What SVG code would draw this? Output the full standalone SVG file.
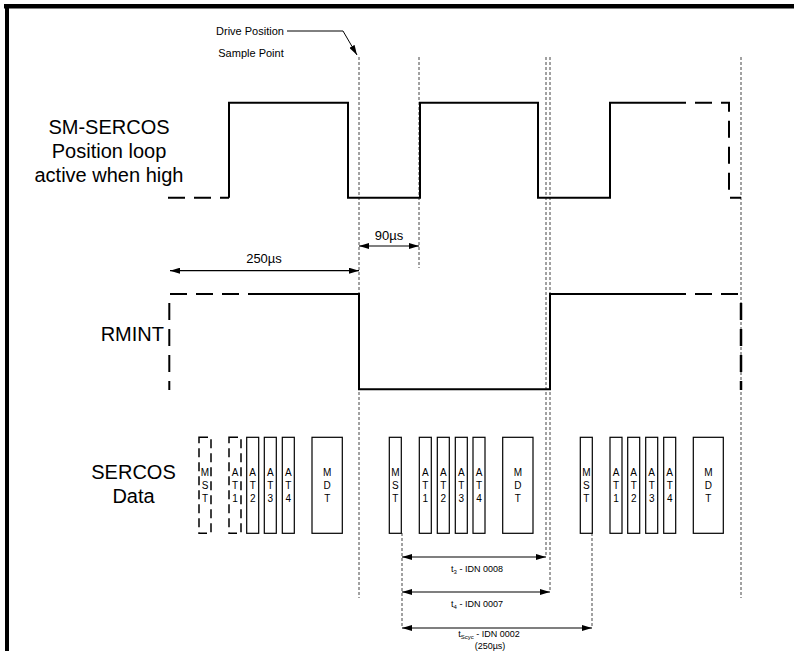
<svg xmlns="http://www.w3.org/2000/svg" width="794" height="651" viewBox="0 0 794 651">
<defs>
<marker id="ah" viewBox="0 0 10 6" refX="10" refY="3" markerWidth="10" markerHeight="6" markerUnits="userSpaceOnUse" orient="auto-start-reverse">
<path d="M0,0 L10,3 L0,6 Z" fill="#000"/>
</marker>
</defs>
<style>
text{font-family:"Liberation Sans",Arial,sans-serif;fill:#000}
.lbl{font-size:20px;text-anchor:middle}
.sm{font-size:11px;text-anchor:middle}
.tiny{font-size:9px;text-anchor:middle}
.box text,.boxd text{font-size:10px;text-anchor:middle}
.wave{stroke:#000;stroke-width:2;fill:none}
.wdash{stroke:#000;stroke-width:2;fill:none;stroke-dasharray:17 9}
.guide{stroke:#444;stroke-width:1;fill:none;stroke-dasharray:3 2}
.dim{stroke:#000;stroke-width:1.2;fill:none;marker-start:url(#ah);marker-end:url(#ah)}
.box rect{fill:#fff;stroke:#000;stroke-width:1.2}
.boxd rect{fill:#fff;stroke:#000;stroke-width:1.5;stroke-dasharray:9 5}
</style>
<rect width="794" height="651" fill="#fff"/>
<!-- frame -->
<line x1="4" y1="6.3" x2="794" y2="6.3" stroke="#000" stroke-width="4.5"/>
<line x1="7" y1="4" x2="7" y2="651" stroke="#000" stroke-width="4"/>

<g id="connectors">
<line class="guide" x1="359" y1="57" x2="359" y2="598"/>
<line class="guide" x1="419" y1="57" x2="419" y2="268"/>
<line class="guide" x1="546" y1="57" x2="546" y2="557"/>
<line class="guide" x1="550" y1="57" x2="550" y2="592"/>
<line class="guide" x1="741" y1="57" x2="741" y2="598"/>
<line class="guide" x1="402" y1="533" x2="402" y2="628"/>
<line class="guide" x1="592" y1="533" x2="592" y2="628"/>
<path d="M287,31 H343 L357,55" stroke="#000" stroke-width="1" fill="none" marker-end="url(#ah)"/>
<line class="dim" x1="170" y1="270.7" x2="359" y2="270.7"/>
<line class="dim" x1="359" y1="246" x2="419" y2="246"/>
<line class="dim" x1="402" y1="557" x2="546" y2="557"/>
<line class="dim" x1="402" y1="592" x2="550" y2="592"/>
<line class="dim" x1="402" y1="628" x2="592" y2="628"/>
</g>

<g id="sm-sercos-wave">
<path class="wdash" d="M168,197.7 H229"/>
<path class="wave" d="M229,197.7 V102.7 H348 V197.7 H420 V102.7 H538 V197.7 H610 V102.7 H669"/>
<path class="wdash" d="M669,102.7 H729 V197.7 H741"/>
</g>

<g id="rmint-wave">
<path class="wdash" d="M170,294 H265"/>
<path class="wdash" d="M169.3,303 V390"/>
<path class="wave" d="M265,294 H359 V389.3 H550 V294 H669"/>
<path class="wdash" d="M669,294 H739"/>
<path class="wdash" d="M741,303 V390" style="stroke-width:2.5"/>
</g>

<g id="labels">
<text class="sm" x="250" y="35">Drive Position</text>
<text class="sm" x="251" y="57">Sample Point</text>
<text class="lbl" x="109" y="134">SM-SERCOS</text>
<text class="lbl" x="109" y="158">Position loop</text>
<text class="lbl" x="109" y="182">active when high</text>
<text class="lbl" x="164" y="341" style="text-anchor:end">RMINT</text>
<text class="lbl" x="133.5" y="479">SERCOS</text>
<text class="lbl" x="133.5" y="503">Data</text>
<text x="264" y="262.5" style="font-size:13px;text-anchor:middle">250µs</text>
<text x="389" y="239.5" style="font-size:13px;text-anchor:middle">90µs</text>
<text class="tiny" x="477" y="572">t<tspan font-size="6" dy="2">3</tspan><tspan dy="-2"> - IDN 0008</tspan></text>
<text class="tiny" x="477" y="607">t<tspan font-size="6" dy="2">4</tspan><tspan dy="-2"> - IDN 0007</tspan></text>
<text class="tiny" x="489" y="637">t<tspan font-size="6" dy="2">Scyc</tspan><tspan dy="-2"> - IDN 0002</tspan></text>
<text class="tiny" x="490" y="649">(250µs)</text>
</g>

<g id="frames-prev">
<g class="boxd" id="mst0"><rect x="199" y="437.3" width="12" height="96"/><text x="205" y="475.5">M<tspan x="205" dy="13.3">S</tspan><tspan x="205" dy="13.3">T</tspan></text></g>
<g class="boxd" id="at1-0"><rect x="229" y="437.3" width="12" height="96"/><text x="235" y="475.5">A<tspan x="235" dy="13.3">T</tspan><tspan x="235" dy="13.3">1</tspan></text></g>
<g class="box" id="at2-0"><rect x="246.7" y="437.3" width="12" height="96"/><text x="252.7" y="475.5">A<tspan x="252.7" dy="13.3">T</tspan><tspan x="252.7" dy="13.3">2</tspan></text></g>
<g class="box" id="at3-0"><rect x="264.3" y="437.3" width="12" height="96"/><text x="270.3" y="475.5">A<tspan x="270.3" dy="13.3">T</tspan><tspan x="270.3" dy="13.3">3</tspan></text></g>
<g class="box" id="at4-0"><rect x="282.3" y="437.3" width="12" height="96"/><text x="288.3" y="475.5">A<tspan x="288.3" dy="13.3">T</tspan><tspan x="288.3" dy="13.3">4</tspan></text></g>
<g class="box" id="mdt-0"><rect x="312" y="437.3" width="30.3" height="96"/><text x="327.2" y="475.5">M<tspan x="327.2" dy="13.3">D</tspan><tspan x="327.2" dy="13.3">T</tspan></text></g>
</g>

<g id="frames-cur">
<g class="box" id="mst1"><rect x="389.3" y="437.3" width="12" height="96"/><text x="395.3" y="475.5">M<tspan x="395.3" dy="13.3">S</tspan><tspan x="395.3" dy="13.3">T</tspan></text></g>
<g class="box" id="at1-1"><rect x="419.3" y="437.3" width="12" height="96"/><text x="425.3" y="475.5">A<tspan x="425.3" dy="13.3">T</tspan><tspan x="425.3" dy="13.3">1</tspan></text></g>
<g class="box" id="at2-1"><rect x="437.3" y="437.3" width="12" height="96"/><text x="443.3" y="475.5">A<tspan x="443.3" dy="13.3">T</tspan><tspan x="443.3" dy="13.3">2</tspan></text></g>
<g class="box" id="at3-1"><rect x="455.3" y="437.3" width="12" height="96"/><text x="461.3" y="475.5">A<tspan x="461.3" dy="13.3">T</tspan><tspan x="461.3" dy="13.3">3</tspan></text></g>
<g class="box" id="at4-1"><rect x="473" y="437.3" width="12" height="96"/><text x="479" y="475.5">A<tspan x="479" dy="13.3">T</tspan><tspan x="479" dy="13.3">4</tspan></text></g>
<g class="box" id="mdt-1"><rect x="502.7" y="437.3" width="30.3" height="96"/><text x="517.8" y="475.5">M<tspan x="517.8" dy="13.3">D</tspan><tspan x="517.8" dy="13.3">T</tspan></text></g>
</g>

<g id="frames-next">
<g class="box" id="mst2"><rect x="580.3" y="437.3" width="12" height="96"/><text x="586.3" y="475.5">M<tspan x="586.3" dy="13.3">S</tspan><tspan x="586.3" dy="13.3">T</tspan></text></g>
<g class="box" id="at1-2"><rect x="610" y="437.3" width="12" height="96"/><text x="616" y="475.5">A<tspan x="616" dy="13.3">T</tspan><tspan x="616" dy="13.3">1</tspan></text></g>
<g class="box" id="at2-2"><rect x="627.7" y="437.3" width="12" height="96"/><text x="633.7" y="475.5">A<tspan x="633.7" dy="13.3">T</tspan><tspan x="633.7" dy="13.3">2</tspan></text></g>
<g class="box" id="at3-2"><rect x="645.7" y="437.3" width="12" height="96"/><text x="651.7" y="475.5">A<tspan x="651.7" dy="13.3">T</tspan><tspan x="651.7" dy="13.3">3</tspan></text></g>
<g class="box" id="at4-2"><rect x="663.7" y="437.3" width="12" height="96"/><text x="669.7" y="475.5">A<tspan x="669.7" dy="13.3">T</tspan><tspan x="669.7" dy="13.3">4</tspan></text></g>
<g class="box" id="mdt-2"><rect x="693.3" y="437.3" width="30" height="96"/><text x="708.3" y="475.5">M<tspan x="708.3" dy="13.3">D</tspan><tspan x="708.3" dy="13.3">T</tspan></text></g>
</g>
</svg>
